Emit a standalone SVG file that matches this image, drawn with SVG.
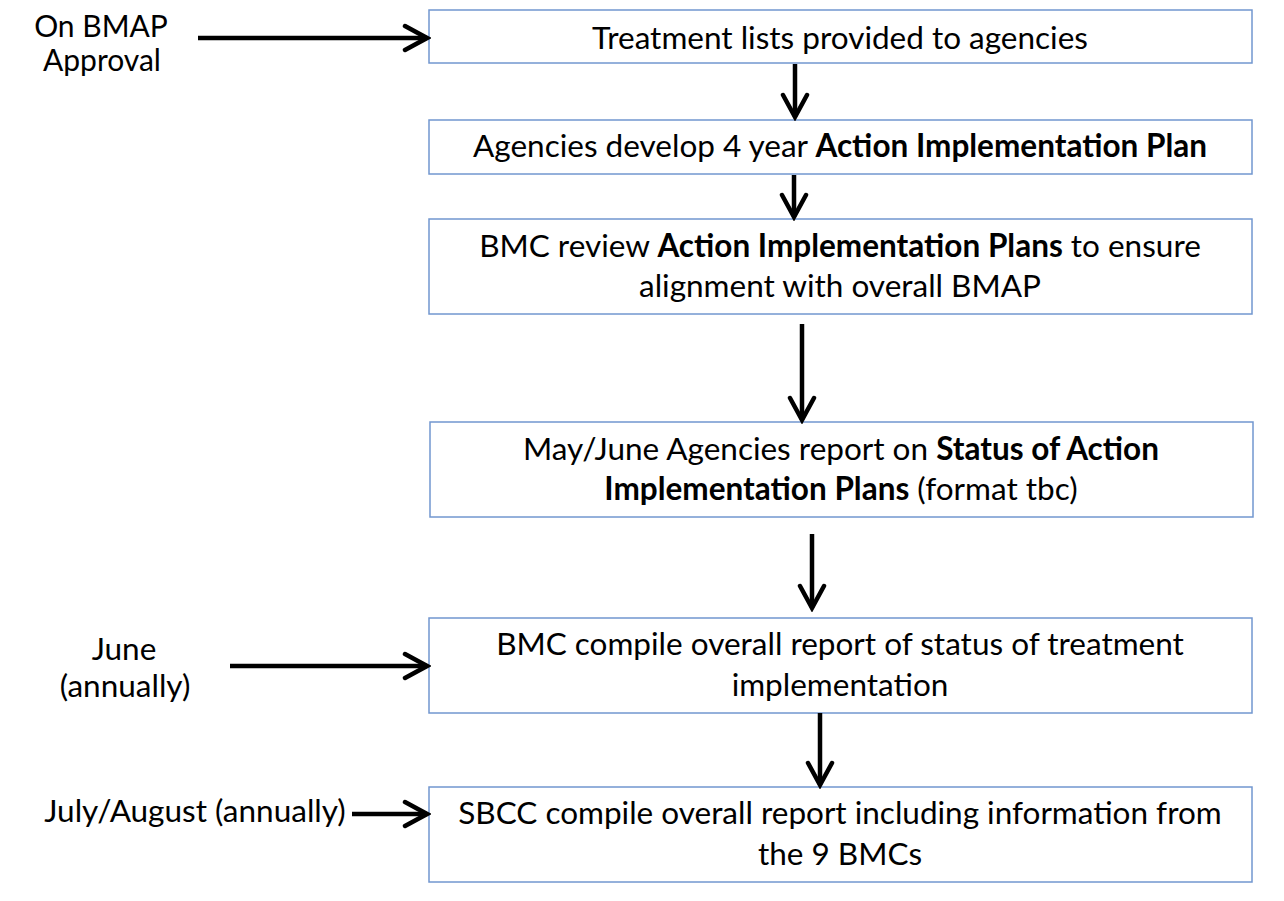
<svg xmlns="http://www.w3.org/2000/svg" width="1284" height="901" viewBox="0 0 1284 901">
  <style>
    .box { fill: #ffffff; stroke: #7297cf; stroke-width: 1.5; }
    .t { font-family: Lato, "Open Sans", "Liberation Sans", sans-serif; font-size: 31.5px; fill: #000000; }
    .side { font-size: 30px; }
    .c { text-anchor: middle; }
    .b { font-weight: bold; }
    .arrow { fill: none; stroke: #000000; stroke-width: 4.5; marker-end: url(#chev); }
  </style>
  <defs>
    <marker id="chev" markerUnits="userSpaceOnUse" viewBox="-30 -16 34 32" refX="0" refY="0" markerWidth="34" markerHeight="32" orient="auto">
      <path d="M-22,-12 L0,0 L-22,12" fill="none" stroke="#000000" stroke-width="4.5" stroke-linecap="round" stroke-linejoin="miter"/>
    </marker>
  </defs>
  <rect width="1284" height="901" fill="#ffffff"/>

  <!-- timing labels -->
  <g id="label-approval">
    <text class="t side c" x="101" y="37">On BMAP</text>
    <text class="t side c" x="102" y="71">Approval</text>
  </g>
  <g id="label-june">
    <text class="t c" x="124" y="660">June</text>
    <text class="t c" x="125" y="697">(annually)</text>
  </g>
  <g id="label-july">
    <text class="t c" x="195" y="822">July/August (annually)</text>
  </g>

  <!-- process steps -->
  <g id="step-treatment-lists">
    <rect class="box" x="429" y="10" width="823" height="53"/>
    <text class="t c" x="840" y="49">Treatment lists provided to agencies</text>
  </g>
  <g id="step-develop-plan">
    <rect class="box" x="429" y="120" width="823" height="54"/>
    <text class="t c" x="840" y="157">Agencies develop 4 year <tspan class="b">Action Implementation Plan</tspan></text>
  </g>
  <g id="step-bmc-review">
    <rect class="box" x="429" y="219" width="823" height="95"/>
    <text class="t c" x="840" y="257">BMC review <tspan class="b">Action Implementation Plans</tspan> to ensure</text>
    <text class="t c" x="840" y="297">alignment with overall BMAP</text>
  </g>
  <g id="step-status-report">
    <rect class="box" x="430" y="422" width="823" height="95"/>
    <text class="t c" x="841" y="460">May/June Agencies report on <tspan class="b">Status of Action</tspan></text>
    <text class="t c" x="841" y="500"><tspan class="b">Implementation Plans</tspan> (format tbc)</text>
  </g>
  <g id="step-bmc-compile">
    <rect class="box" x="429" y="618" width="823" height="95"/>
    <text class="t c" x="840" y="655">BMC compile overall report of status of treatment</text>
    <text class="t c" x="840" y="696">implementation</text>
  </g>
  <g id="step-sbcc-compile">
    <rect class="box" x="429" y="787" width="823" height="95"/>
    <text class="t c" x="840" y="824">SBCC compile overall report including information from</text>
    <text class="t c" x="840" y="865">the 9 BMCs</text>
  </g>

  <!-- connectors -->
  <g id="connectors">
    <line class="arrow" x1="198" y1="38" x2="427" y2="38"/>
    <line class="arrow" x1="230" y1="666" x2="427" y2="666"/>
    <line class="arrow" x1="352" y1="814" x2="427" y2="814"/>
    <line class="arrow" x1="795" y1="64" x2="795" y2="117"/>
    <line class="arrow" x1="794" y1="175" x2="794" y2="217"/>
    <line class="arrow" x1="802" y1="324" x2="802" y2="420"/>
    <line class="arrow" x1="812" y1="534" x2="812" y2="608"/>
    <line class="arrow" x1="820" y1="713" x2="820" y2="785"/>
  </g>
</svg>
